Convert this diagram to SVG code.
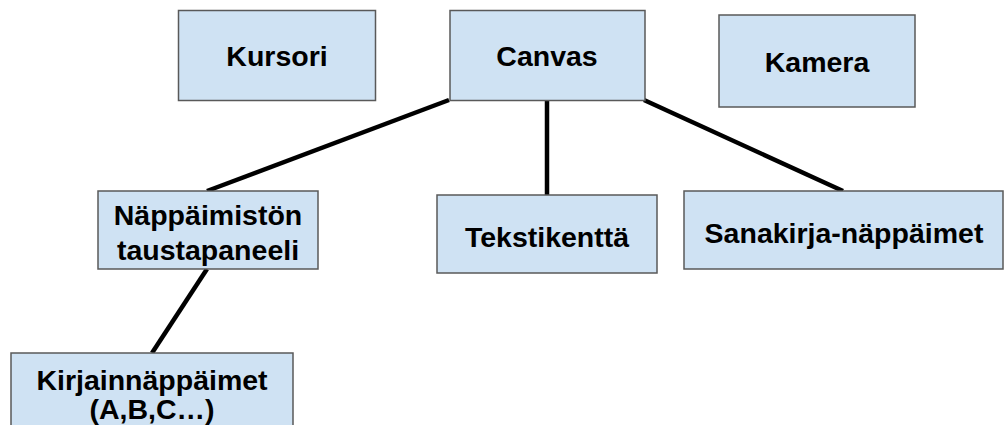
<svg xmlns="http://www.w3.org/2000/svg" width="1004" height="425" viewBox="0 0 1004 425">
  <style>
    .box { fill: #cfe2f3; stroke: #595959; stroke-width: 1.5; }
    .lbl { font-family: "Liberation Sans", Arial, sans-serif; font-weight: bold; font-size: 28.5px; fill: #000; text-anchor: middle; }
    .link { stroke: #000; stroke-width: 4.5; fill: none; }
  </style>
  <rect width="1004" height="425" fill="#fff"/>

  <!-- connectors -->
  <g id="connectors">
    <line class="link" x1="449" y1="100" x2="207" y2="191"/>
    <line class="link" x1="547" y1="100" x2="547" y2="195"/>
    <line class="link" x1="644" y1="100" x2="843" y2="191"/>
    <line class="link" x1="207" y1="269" x2="152" y2="353"/>
  </g>

  <g id="kursori">
    <rect class="box" x="178.5" y="10.5" width="197" height="90"/>
    <text class="lbl" x="277" y="66">Kursori</text>
  </g>

  <g id="canvas">
    <rect class="box" x="450" y="10.5" width="195" height="90"/>
    <text class="lbl" x="547" y="66">Canvas</text>
  </g>

  <g id="kamera">
    <rect class="box" x="719" y="15" width="196" height="92"/>
    <text class="lbl" x="817" y="72">Kamera</text>
  </g>

  <g id="nappaimiston-taustapaneeli">
    <rect class="box" x="98" y="191" width="220" height="78"/>
    <text class="lbl" x="208" y="225">Näppäimistön</text>
    <text class="lbl" x="208" y="260">taustapaneeli</text>
  </g>

  <g id="tekstikentta">
    <rect class="box" x="437" y="195" width="220" height="78"/>
    <text class="lbl" x="547" y="247">Tekstikenttä</text>
  </g>

  <g id="sanakirja-nappaimet">
    <rect class="box" x="684" y="191" width="319" height="78"/>
    <text class="lbl" x="844" y="243">Sanakirja-näppäimet</text>
  </g>

  <g id="kirjainnappaimet">
    <rect class="box" x="11" y="353" width="282" height="80"/>
    <text class="lbl" x="152" y="390">Kirjainnäppäimet</text>
    <text class="lbl" x="152" y="419">(A,B,C…)</text>
  </g>
</svg>
